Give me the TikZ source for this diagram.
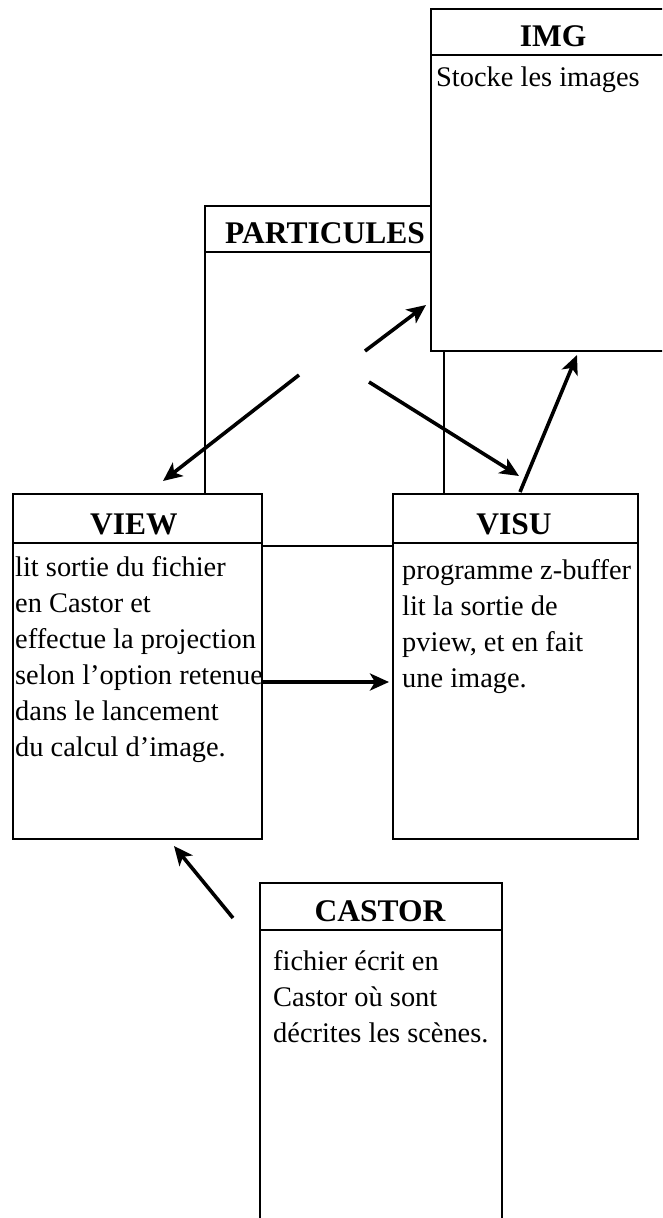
\documentclass[tikz,border=0pt]{standalone}
\usepackage{fontspec}
\setmainfont{Liberation Serif}
\usetikzlibrary{arrows.meta}
\tikzset{
  box/.style={draw, line width=2.3pt, fill=white, inner sep=0pt, anchor=north west},
  hdr/.style={font=\fontsize{31.5}{36}\selectfont\bfseries, anchor=base, inner sep=0pt},
  body/.style={font=\fontsize{28.4}{36}\selectfont, anchor=north west, align=left, inner sep=0pt},
  sep/.style={line width=2.3pt},
  arr/.style={line width=3.6pt, -{Stealth[length=19pt,width=17pt,inset=5pt]}},
}
\begin{document}
\begin{tikzpicture}[x=1pt,y=-1pt]
\useasboundingbox (0,0) rectangle (662,1218);
\clip (0,0) rectangle (662,1218);
% PARTICULES (behind)
\node[box, minimum width=239pt, minimum height=340pt] (part) at (204,205) {};
\coordinate (partH) at (0,252);
\draw[sep] (part.west |- partH) -- (part.east |- partH);
\node[hdr] (partT) at (325,243) {PARTICULES};
% IMG
\node[box, minimum width=260pt, minimum height=342pt] (img) at (430,8) {};
\coordinate (imgH) at (0,55);
\draw[sep] (img.west |- imgH) -- (img.east |- imgH);
\node[hdr] (imgT) at (553,46) {IMG};
\node[body] (imgB) at (436,66.5) {Stocke les images};
% VIEW
\node[box, minimum width=249pt, minimum height=345pt] (view) at (12,493) {};
\coordinate (viewH) at (0,543);
\draw[sep] (view.west |- viewH) -- (view.east |- viewH);
\node[hdr] (viewT) at (134,534) {VIEW};
\node[body] (viewB) at (15,556.5) {lit sortie du fichier\\en Castor et\\effectue la projection\\selon l'option retenue\\dans le lancement\\du calcul d'image.};
% VISU
\node[box, minimum width=245pt, minimum height=345pt] (visu) at (392,493) {};
\coordinate (visuH) at (0,543);
\draw[sep] (visu.west |- visuH) -- (visu.east |- visuH);
\node[hdr] (visuT) at (514,534) {VISU};
\node[body] (visuB) at (402,559.5) {programme z-buffer\\lit la sortie de\\pview, et en fait\\une image.};
% CASTOR
\node[box, minimum width=242pt, minimum height=360pt] (castor) at (259,882) {};
\coordinate (castorH) at (0,930);
\draw[sep] (castor.west |- castorH) -- (castor.east |- castorH);
\node[hdr] (castorT) at (380,921) {CASTOR};
\node[body] (castorB) at (273,950.5) {fichier écrit en\\Castor où sont\\décrites les scènes.};
% arrows
\coordinate (a1s) at (299,375); \coordinate (a1e) at (163,481);
\coordinate (a2s) at (365,351); \coordinate (a2e) at (426,305);
\coordinate (a3s) at (369,382); \coordinate (a3e) at (519,476);
\coordinate (a4s) at (520,492); \coordinate (a4e) at (577,355);
\coordinate (a5s) at (263,682); \coordinate (a5e) at (389,682);
\coordinate (a6s) at (233,918); \coordinate (a6e) at (174,846);
\draw[arr] (a1s) -- (a1e);
\draw[arr] (a2s) -- (a2e);
\draw[arr] (a3s) -- (a3e);
\draw[arr] (a4s) -- (a4e);
\draw[arr] (a5s) -- (a5e);
\draw[arr] (a6s) -- (a6e);
\end{tikzpicture}
\end{document}
